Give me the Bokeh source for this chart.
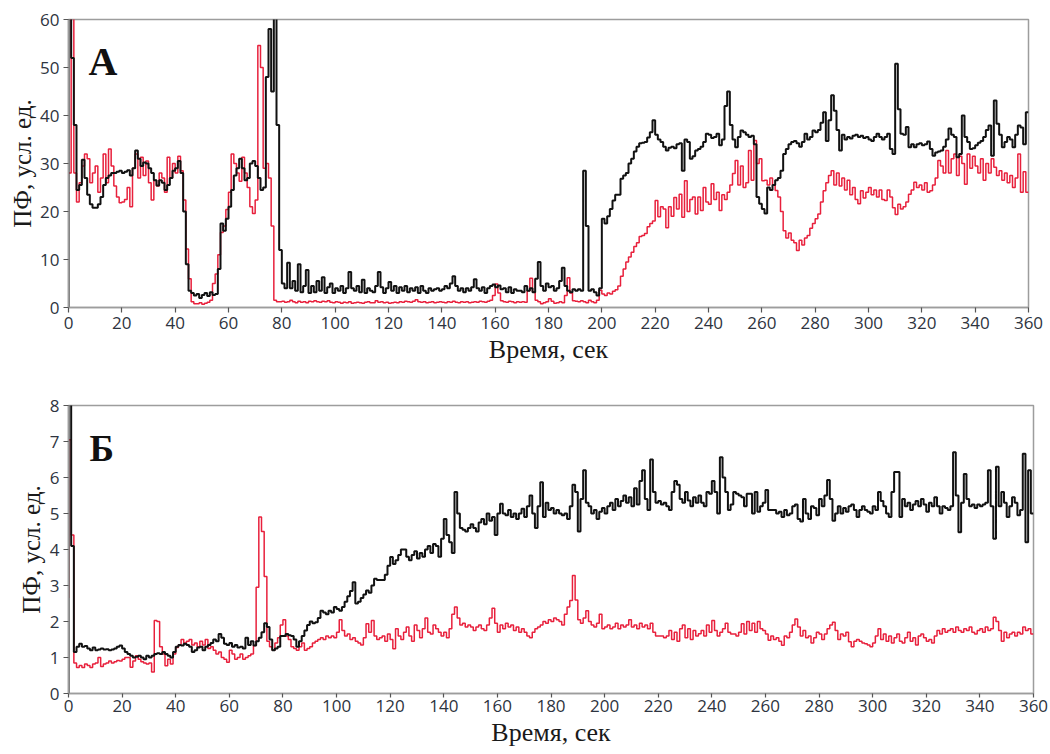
from bokeh.plotting import figure
from bokeh.layouts import column
from bokeh.models import Range1d, FixedTicker, Label, Title
from bokeh.embed import file_html
from bokeh.resources import INLINE

# time, s (one sample per second)
time_s = list(range(0, 361))

# Panel A
a_black = [
    0, 65, 52, 38, 24.5, 25.5, 30.8, 27, 23.5, 21.5,
    20.8, 20.8, 21.5, 23, 25.5, 27, 27.5, 28, 28, 28.3,
    28.5, 28, 28.3, 28.6, 27.5, 29, 32.7, 31, 29.5, 30.2,
    30, 29, 28, 26.5, 25.4, 26.5, 26, 24.5, 25.5, 27,
    28.5, 29, 30.5, 28, 20, 9, 3.5, 3, 2.5, 2.8,
    2, 2.6, 3, 2.4, 3.2, 2.6, 2.8, 8, 17.5, 16,
    18.5, 21, 24.5, 27.5, 29, 31, 29, 26.5, 27, 30,
    30.5, 29.5, 27, 24.5, 25, 48, 58, 45, 65, 38,
    12, 5, 4, 9.3, 4, 5.5, 3.5, 9, 3.2, 4.5,
    7.8, 3, 4.5, 3.2, 5.5, 3.5, 6.3, 3, 4.2, 5,
    3, 4, 3.5, 4.5, 3, 4, 7.4, 4, 3.5, 4.5,
    3.2, 5.8, 3, 4, 3.5, 3.2, 4.5, 7.4, 4.2, 3,
    4, 5.3, 3.5, 4.5, 3, 4.2, 3.5, 4.5, 3.2, 4,
    3.5, 4.2, 3, 4.5, 3.5, 3, 4, 3.5, 3.8, 4,
    3.5, 3.8, 4.5, 4, 5, 6.5, 4.5, 3.5, 4, 3.2,
    4, 3.5, 4.2, 5.9, 4, 3.5, 4.2, 3, 4, 4.5,
    4.8, 4.2, 4.6, 3.8, 4, 3.2, 4.2, 3, 3.8, 3.5,
    3.5, 3.2, 4.5, 3.5, 4, 3.2, 6, 9.5, 4.5, 3.5,
    5, 4.2, 4.5, 3.5, 4, 5.5, 8.3, 4.5, 3.5, 3.2,
    3.8, 3.5, 3.8, 3.5, 28.5, 17, 3.5, 3.8, 3.2, 2.5,
    4, 18.5, 17.5, 19, 20.5, 22.3, 23.5, 23.5, 26.8, 27.5,
    28, 30, 31, 32.5, 33.5, 34.2, 34.3, 34.5, 35.4, 36.5,
    39, 36, 35, 34.5, 33.5, 32.7, 33.3, 33.5, 33.2, 34,
    34.2, 28.5, 35, 34.5, 31, 31.5, 32.7, 33, 33.5, 34.5,
    36.2, 36, 35.3, 35.5, 36.2, 33.8, 35, 42, 45, 38,
    35, 33.4, 35.5, 36.9, 36.5, 36, 35.5, 35.8, 34, 23,
    21.6, 20.5, 19.6, 25, 24.5, 25.5, 26.5, 27, 28.5, 32,
    33, 34, 34.5, 34.7, 34.2, 33.5, 34.5, 36.2, 35, 35.5,
    36.9, 36.5, 37, 38.5, 40.7, 34.7, 39, 44.2, 41, 37,
    32.7, 36, 35, 35.5, 35.2, 35.8, 36, 35.5, 35.8, 35.3,
    35.5, 35, 34.7, 35.5, 36.2, 35.5, 35, 35.5, 36.2, 33,
    32, 50.8, 41.3, 36.2, 36, 37.6, 33.4, 34, 33.4, 34,
    34.2, 33.8, 34, 34.6, 33, 31.6, 32.3, 32.5, 32.7, 33.5,
    35, 37.3, 36, 35.5, 31.3, 32, 40, 35.5, 34.5, 33,
    33.2, 33.8, 34.3, 34.7, 35.5, 37, 37.9, 31.6, 43.1, 38.3,
    36, 33.4, 34.5, 35.5, 35, 33.4, 36, 37.9, 37.5, 34,
    40.7,
]

a_red = [
    28, 28, 65, 28, 22, 26, 29.5, 32, 31, 26,
    28, 29.5, 24, 27, 32, 26, 33, 29.5, 25.3, 23,
    21.8, 22, 22.5, 25, 21, 29, 32, 27, 31.3, 27.5,
    30.5, 26, 22.4, 26.5, 25.3, 28, 27, 24, 31.3, 27,
    30, 28, 31.5, 28.5, 22.4, 12.2, 6, 1.2, 0.8, 0.8,
    1, 0.7, 0.9, 1.1, 1.5, 5, 7, 11, 15.6, 17,
    20.4, 24, 32, 30, 28, 26.3, 31.3, 28, 25, 21,
    19.6, 22.4, 54.6, 50, 29, 30, 27, 17, 1.5, 1.2,
    1.2, 1.3, 1.1, 1.2, 1.5, 1.2, 1.0, 1.3, 1.1, 1.2,
    1.0, 1.3, 1.2, 1.4, 1.2, 1.1, 1.3, 1.2, 1.4, 1.1,
    1.0, 1.2, 1.1, 0.9, 1.1, 1.0, 1.2, 0.9, 1.0, 1.1,
    1.0, 0.9, 1.1, 1.2, 1.0, 1.0, 1.4, 1.1, 1.2, 1.0,
    1.1, 0.9, 1.0, 1.1, 1.0, 1.2, 1.1, 1.3, 1.2, 1.1,
    1.3, 1.6, 1.2, 1.1, 1.2, 1.0, 1.1, 1.2, 1.0, 1.1,
    1.2, 1.1, 1.0, 1.2, 1.1, 1.3, 1.1, 1.0, 1.2, 1.1,
    1.2, 1.0, 1.1, 1.2, 1.1, 1.3, 1.2, 1.1, 1.3, 1.5,
    2.5, 4.9, 3, 1.4, 1.2, 1.1, 1.3, 1.2, 1.0, 1.2,
    1.1, 1.2, 1.1, 3.5, 6.1, 3.3, 1.5, 1.2, 0.8, 1.0,
    1.2, 1.8, 1.3, 0.9, 1.0, 1.2, 1.0, 2.5, 6.2, 3,
    1.4, 1.3, 1.2, 1.4, 1.2, 1.0, 1.5, 1.2, 1.0, 1.5,
    3.6, 2.8, 2.5, 3, 2.8, 3.4, 3.7, 4.5, 6.5, 8,
    9.5, 10.5, 11.5, 12.7, 13.5, 14.8, 15, 15.4, 16.8, 17.5,
    18, 22.3, 18.9, 21, 20.5, 16.6, 21, 19, 22.9, 20.5,
    23.6, 18.8, 26.4, 20, 22.5, 23, 19.5, 23, 20.2, 25,
    22, 21.5, 25.8, 22.5, 24, 20.2, 23.5, 22.5, 24, 25.5,
    27.9, 30.6, 25.5, 29.5, 25, 26, 32.7, 26.5, 34.8, 30,
    31, 26.4, 26.5, 25.5, 27, 25.5, 24.4, 23, 20, 16,
    14.5, 15.5, 14, 13.5, 11.9, 14, 13, 14.5, 15, 16.5,
    17.5, 18.5, 19.5, 22, 24.3, 26, 27.5, 28.5, 25.5, 28,
    25.3, 27, 24.5, 26.5, 23.5, 25, 22.5, 21.6, 24.3, 22.8,
    24, 25, 23.5, 24.5, 23, 24.5, 22.5, 22.3, 24.5, 23,
    20.8, 19.4, 21.5, 20.5, 21, 22, 23.6, 24.5, 26.1, 25,
    25.5, 24.5, 26, 24, 24.3, 25.5, 27, 30.6, 29.5, 28,
    32.7, 28, 31, 32, 27.5, 31.5, 30, 25.7, 32, 29,
    31.5, 29.5, 28, 31, 26.5, 30, 28, 31, 29.2, 27.5,
    28.5, 26.5, 28, 26, 27.5, 25, 27, 32, 24, 28.3,
    24,
]

# Panel B
b_black = [
    0, 9, 4.1, 1.15, 1.3, 1.38, 1.3, 1.32, 1.25, 1.2,
    1.28, 1.2, 1.22, 1.25, 1.22, 1.23, 1.2, 1.22, 1.25, 1.3,
    1.33, 1.25, 1.15, 1.1, 1.05, 1.0, 1.02, 1.05, 1.0, 0.95,
    1.05, 1.0, 1.05, 1.1, 1.12, 1.1, 1.15, 1.1, 1.05, 1.0,
    1.15, 1.3, 1.35, 1.33, 1.38, 1.35, 1.3, 1.15, 1.2, 1.28,
    1.3, 1.2, 1.3, 1.35, 1.4, 1.5, 1.45, 1.65, 1.55, 1.38,
    1.35, 1.4, 1.3, 1.35, 1.28, 1.3, 1.25, 1.55, 1.35, 1.45,
    1.33, 1.45, 1.55, 1.7, 1.95, 1.85, 1.5, 1.2, 1.25, 1.3,
    1.6, 1.6, 1.65, 1.62, 1.6, 1.5, 1.3, 1.45, 1.6, 1.75,
    1.9, 2.0, 1.95, 1.98, 2.1, 2.3, 2.25, 2.2, 2.3, 2.25,
    2.4, 2.35, 2.3, 2.4, 2.55, 2.7, 2.85, 3.09, 2.5, 2.55,
    2.65, 2.75, 2.86, 2.8, 3.0, 3.19, 3.15, 3.15, 3.15, 3.3,
    3.55, 3.79, 3.6, 3.7, 3.85, 4.0, 4.0, 3.8, 3.7, 3.85,
    3.95, 3.75, 3.9, 3.8, 4.0, 4.1, 3.9, 4.15, 4.1, 3.8,
    4.3, 4.85, 4.4, 4.2, 3.9, 5.6, 5.0, 4.6, 4.55, 4.5,
    4.6, 4.7, 4.6, 4.5, 4.75, 4.85, 4.7, 5.0, 4.8, 4.9,
    4.4, 5.0, 5.27, 5.0, 4.95, 5.1, 4.9, 5.0, 4.85, 5.0,
    5.13, 4.9, 5.2, 5.5, 5.0, 4.6, 5.2, 5.87, 4.9, 5.3,
    5.1, 5.15, 5.0, 5.1, 5.0, 4.95, 5.0, 4.85, 5.2, 5.8,
    5.6, 4.5, 5.4, 6.2, 5.3, 5.2, 5.0, 5.1, 4.85, 5.05,
    5.15, 5.0, 5.2, 5.3, 5.1, 5.4, 5.2, 5.35, 5.5, 5.3,
    5.45, 5.2, 5.7, 5.25, 5.9, 6.2, 5.4, 5.1, 6.5, 5.6,
    5.3, 5.35, 5.25, 5.3, 5.2, 5.1, 5.6, 5.9, 5.8, 5.4,
    5.3, 5.6, 5.36, 5.2, 5.45, 5.3, 5.5, 5.3, 5.2, 5.6,
    5.55, 5.9, 5.6, 5.0, 6.56, 6.0, 5.6, 5.1, 5.25, 5.6,
    5.55, 5.5, 5.45, 5.2, 5.55, 5.55, 5.0, 5.6, 5.05, 5.2,
    5.3, 5.65, 5.1, 5.1, 5.1, 5.0, 5.05, 4.9, 5.1, 4.95,
    5.0, 5.2, 5.25, 4.85, 4.78, 5.4, 5.0, 4.85, 5.2, 5.15,
    4.95, 5.4, 5.2, 5.5, 5.93, 5.4, 4.8, 5.0, 5.2, 5.0,
    5.15, 5.05, 5.2, 5.25, 5.1, 4.9, 5.1, 5.2, 5.1, 5.05,
    5.0, 5.2, 5.1, 5.6, 5.35, 5.2, 5.0, 4.9, 5.6, 6.15,
    6.15, 4.9, 5.4, 5.2, 5.3, 5.1, 5.25, 5.35, 5.2, 5.4,
    5.25, 5.05, 5.3, 5.2, 5.45, 5.2, 5.0, 5.2, 5.15, 5.1,
    5.2, 6.7, 5.5, 4.48, 5.3, 6.1, 5.4, 5.2, 5.25, 5.15,
    5.25, 5.2, 5.25, 5.3, 6.2, 5.2, 4.3, 6.3, 5.2, 5.6,
    5.3, 4.9, 5.2, 5.45, 5.3, 4.95, 5.1, 6.66, 4.2, 6.2,
    5.0,
]

b_red = [
    2.65, 7.05, 4.4, 0.85, 0.72, 0.78, 0.72, 0.82, 0.78, 0.72,
    0.82, 0.85, 1.0, 0.75, 0.82, 0.85, 0.9, 0.85, 0.88, 0.92,
    0.9, 0.95, 1.0, 1.0, 0.73, 0.9, 1.05, 0.95, 0.88, 0.85,
    0.82, 0.85, 0.6, 2.03, 2.0, 1.3, 1.1, 0.77, 0.95, 0.82,
    1.1, 1.28, 1.35, 1.5, 1.4, 1.45, 1.5, 1.35, 1.4, 1.3,
    1.45, 1.35, 1.5, 1.25, 1.3, 1.2, 1.1, 1.15, 1.0, 0.95,
    0.87, 1.2, 1.1, 0.95, 1.0, 1.1, 0.95, 1.0, 1.05, 1.1,
    1.33, 2.95, 4.9, 4.5, 3.25, 1.45, 1.3, 1.2, 1.4, 1.55,
    1.9, 2.05, 1.6, 1.5, 1.3, 1.25, 1.2, 1.3, 1.4, 1.2,
    1.25, 1.3, 1.4, 1.45, 1.5, 1.55, 1.5, 1.6, 1.55, 1.6,
    1.55, 1.7, 2.05, 1.75, 1.6, 1.65, 1.5, 1.55, 1.45, 1.4,
    1.35, 1.55, 1.94, 1.7, 2.03, 1.6, 1.5, 1.55, 1.6, 1.45,
    1.65, 1.5, 1.24, 1.8, 1.6, 1.5, 1.7, 1.85, 1.6, 1.45,
    1.9, 1.75, 1.55, 1.8, 2.1, 1.7, 1.65, 1.9, 1.8, 1.7,
    1.6, 1.7, 1.55, 1.8, 2.2, 2.4, 2.1, 1.9, 1.95, 1.85,
    1.9, 1.85, 1.75, 1.85, 1.9, 1.8, 1.75, 1.9, 2.1, 2.37,
    1.95, 1.7, 1.9, 1.8, 1.95, 1.85, 1.9, 1.75, 1.85, 1.7,
    1.8, 1.7, 1.6, 1.55, 1.7, 1.8, 1.85, 1.9, 2.0, 1.95,
    2.05, 2.0, 2.1, 2.05, 2.0, 1.9, 2.2, 2.4, 2.58, 3.28,
    2.6, 2.05, 1.95, 2.1, 2.3, 2.0, 1.9, 1.85, 1.95, 2.2,
    1.8, 1.85, 1.9, 1.8, 1.85, 1.95, 1.8, 1.9, 1.85, 1.9,
    2.05, 1.85, 1.9, 1.8, 1.95, 1.85, 1.9, 1.8, 1.95, 1.7,
    1.6, 1.6, 1.6, 1.55, 1.6, 1.75, 1.5, 1.7, 1.45, 1.8,
    1.9, 1.55, 1.8, 1.5, 1.75, 1.6, 1.66, 1.75, 1.6, 1.9,
    1.7, 2.03, 1.75, 1.6, 1.7, 1.8, 1.95, 1.7, 1.65, 1.65,
    1.6, 1.7, 1.94, 1.65, 2.0, 1.75, 1.95, 1.7, 2.0, 1.8,
    1.75, 1.65, 1.48, 1.6, 1.5, 1.55, 1.45, 1.34, 1.6, 1.55,
    1.7, 1.9, 2.07, 1.85, 1.6, 1.75, 1.55, 1.6, 1.4, 1.55,
    1.7, 1.65, 1.5, 1.65, 1.8, 1.9, 1.98, 1.75, 1.5, 1.65,
    1.6, 1.7, 1.44, 1.3, 1.45, 1.5, 1.45, 1.4, 1.38, 1.35,
    1.3, 1.4, 1.6, 1.8, 1.5, 1.65, 1.45, 1.6, 1.4, 1.55,
    1.65, 1.45, 1.4, 1.55, 1.7, 1.45, 1.55, 1.35, 1.6, 1.65,
    1.55, 1.45, 1.5, 1.4, 1.6, 1.75, 1.65, 1.8, 1.7, 1.75,
    1.8, 1.7, 1.85, 1.75, 1.7, 1.8, 1.75, 1.85, 1.7, 1.65,
    1.75, 1.8, 1.7, 1.85, 1.75, 1.8, 2.12, 2.0, 1.75, 1.45,
    1.7, 1.55, 1.65, 1.7, 1.6, 1.7, 1.65, 1.85, 1.75, 1.8,
    1.65,
]

x_ticks = [0, 20, 40, 60, 80, 100, 120, 140, 160, 180, 200, 220, 240, 260, 280, 300, 320, 340, 360]
a_y_ticks = [0, 10, 20, 30, 40, 50, 60]
b_y_ticks = [0, 1, 2, 3, 4, 5, 6, 7, 8]

x_label = "Время, сек"
y_label = "ПФ, усл. ед."
panel_names = ["А", "Б"]

BLACK = "#111111"
RED = "#e8203c"
TICK_FONT = "Open Sans"
SERIF = "Liberation Serif"


def make_panel(black, red, ymax, yticks, width, height, bl, br, bt, bb,
               y_standoff, x_standoff, compact=False):
    p = figure(width=width, height=height, output_backend="svg",
               toolbar_location=None,
               x_range=Range1d(0, 360), y_range=Range1d(0, ymax),
               min_border_left=bl, min_border_right=br,
               min_border_top=bt, min_border_bottom=bb)
    p.xgrid.visible = False
    p.ygrid.visible = False
    p.outline_line_color = "#9d9d9d"
    p.outline_line_width = 1.5
    p.background_fill_color = "white"
    p.border_fill_color = "white"

    p.step(time_s, red, mode="before", line_color=RED, line_width=1.5)
    p.step(time_s, black, mode="before", line_color=BLACK, line_width=2)

    p.xaxis.ticker = FixedTicker(ticks=x_ticks)
    p.yaxis.ticker = FixedTicker(ticks=yticks)

    for axes in (p.xaxis, p.yaxis):
        axes.axis_line_color = "#9d9d9d"
        axes.axis_line_width = 1.5
        axes.major_tick_line_color = "#555555"
        axes.major_tick_line_width = 1.2
        axes.major_tick_in = 0
        axes.major_tick_out = 5
        axes.minor_tick_line_color = None
        axes.major_label_text_font = TICK_FONT
        axes.major_label_text_font_size = "17px"
        axes.major_label_text_color = "#2e3440"

    p.yaxis.major_label_standoff = 4
    if compact:
        p.xaxis.major_tick_out = 4
        p.xaxis.major_label_standoff = 2
    else:
        p.xaxis.major_label_standoff = 4

    xt = Title(text=x_label, align="center", text_font=SERIF,
               text_font_size="26px", text_font_style="normal",
               text_color="#1a1a1a", standoff=x_standoff, offset=0)
    yt = Title(text=y_label, align="center", text_font=SERIF,
               text_font_size="25px", text_font_style="normal",
               text_color="#1a1a1a", standoff=y_standoff, offset=0)
    p.add_layout(xt, "below")
    p.add_layout(yt, "left")
    return p


p1 = make_panel(a_black, a_red, 60, a_y_ticks, 1045, 370, 68, 17, 19, 63,
                y_standoff=3, x_standoff=3)
p1.add_layout(Label(x=7.5, y=51.2, text=panel_names[0], text_font=SERIF,
                    text_font_size="40px", text_font_style="bold",
                    text_color="#111111", text_baseline="alphabetic"))

p2 = make_panel(b_black, b_red, 8, b_y_ticks, 1050, 382, 65, 17, 35, 59,
                y_standoff=4, x_standoff=2, compact=True)
p2.add_layout(Label(x=7.8, y=6.8, text=panel_names[1], text_font=SERIF,
                    text_font_size="37px", text_font_style="bold",
                    text_color="#111111", text_baseline="alphabetic"))

layout = column(p1, p2, spacing=0)

with open("out.html", "w") as f:
    f.write(file_html(layout, INLINE))
